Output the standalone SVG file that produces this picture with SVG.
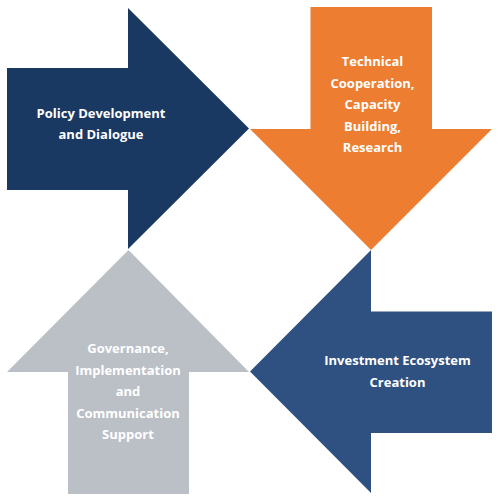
<svg xmlns="http://www.w3.org/2000/svg" width="500" height="500" viewBox="0 0 500 500">
<style>
text{font-family:"Open Sans","Liberation Sans",sans-serif;font-weight:bold;font-size:13px;fill:#fff;text-anchor:middle}
</style>
<rect width="500" height="500" fill="#fff"/>
<g id="policy">
<polygon points="7,68 128,68 128,8 249,128.5 128,249 128,190 7,190" fill="#193862"/>
<text x="101" y="118">Policy Development</text>
<text x="101" y="139">and Dialogue</text>
</g>
<g id="technical">
<polygon points="310.5,7 432,7 432,129 492,129 371,250 250,129 310.5,129" fill="#ED7D31"/>
<text x="372.5" y="66">Technical</text>
<text x="372.5" y="87.5">Cooperation,</text>
<text x="372.5" y="109">Capacity</text>
<text x="372.5" y="130.5">Building,</text>
<text x="372.5" y="152">Research</text>
</g>
<g id="investment">
<polygon points="492,311.5 492,433 371,433 371,493 250,371.5 371,250 371,311.5" fill="#2F5181"/>
<text x="397.5" y="365">Investment Ecosystem</text>
<text x="397.5" y="386.5">Creation</text>
</g>
<g id="governance">
<polygon points="68,494 189,494 189,372 249,372 128.5,250 7,372 68,372" fill="#BBC0C7"/>
<text x="128" y="353">Governance,</text>
<text x="128" y="374.5">Implementation</text>
<text x="128" y="396">and</text>
<text x="128" y="417.5">Communication</text>
<text x="128" y="439">Support</text>
</g>
<g id="connectors"></g>
</svg>
